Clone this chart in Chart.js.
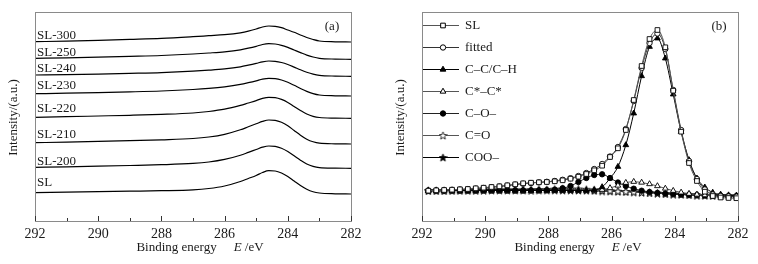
<!DOCTYPE html>
<html><head><meta charset="utf-8">
<script src="https://cdn.jsdelivr.net/npm/chart.js@4/dist/chart.umd.min.js"></script>
<style>
html,body{margin:0;padding:0;background:#fff;}
#wrap{position:relative;width:758px;height:264px;overflow:hidden;}
canvas{position:absolute;top:0;}
</style></head><body>
<div id="wrap">
<canvas id="ca" width="379" height="264" style="left:0"></canvas>
<canvas id="cb" width="379" height="264" style="left:379px"></canvas>
</div>
<script>
// ---------------- DATA ----------------
const tickValues = [292, 290, 288, 286, 284, 282];
const minorTickValues = [291, 289, 287, 285, 283];

// Panel (a): stacked spectra
const energyA = [292, 291, 290, 289, 288, 287, 286.5, 286, 285.5, 285.25, 285, 284.8, 284.6, 284.4, 284.2, 284, 283.8, 283.6, 283.4, 283.2, 283, 282.5, 282];
const sampleNames = ['SL', 'SL-200', 'SL-210', 'SL-220', 'SL-230', 'SL-240', 'SL-250', 'SL-300'];
const labelLevels = [38.7, 59.3, 86, 112, 135.3, 152, 168.7, 185.3];
const specSL    = [28.3, 28.8, 29.3, 29.8, 30.3, 31.2, 32.5, 35, 39.5, 42.5, 45.5, 48.5, 50.3, 50, 48, 44.5, 40, 35.5, 31.8, 29.3, 28, 27.2, 27];
const specSL200 = [53.7, 54.2, 54.8, 55.5, 56.3, 57.6, 59, 61.6, 65.8, 68.6, 71.5, 73.8, 75, 74.7, 72.8, 69.5, 65.2, 60.8, 57, 54.6, 53.4, 52.9, 52.7];
const specSL210 = [78.3, 78.9, 79.6, 80.3, 81.2, 82.5, 84, 86.7, 91.2, 94.2, 97.2, 99.6, 101, 100.7, 98.7, 95.2, 90.5, 85.8, 81.8, 79.2, 77.8, 77.2, 77];
const specSL220 = [103.7, 104.3, 105, 105.7, 106.6, 108, 109.5, 111.8, 115.6, 118, 120.4, 122.6, 123.7, 123.4, 121.6, 118.6, 114.5, 110.5, 107, 104.7, 103.5, 102.9, 102.7];
const specSL230 = [127.3, 127.8, 128.4, 129.1, 130, 131.5, 132.6, 134.2, 136.6, 138.3, 140.2, 141.9, 142.7, 142.4, 141, 138.7, 135.7, 132.5, 129.6, 127.4, 126, 125.2, 125];
const specSL240 = [146, 146.4, 146.9, 147.6, 148.4, 149.8, 150.8, 152.1, 154.2, 155.8, 157.6, 159.2, 160, 159.7, 158.5, 156.5, 153.9, 151.2, 148.8, 146.9, 145.7, 144.9, 144.7];
const specSL250 = [162.7, 163.2, 163.8, 164.6, 165.5, 167, 168, 169.2, 171.2, 172.8, 174.7, 176.5, 177.3, 177, 175.7, 173.6, 171, 168.4, 165.9, 164, 162.7, 161.9, 161.7];
const specSL300 = [179.3, 179.9, 180.7, 181.6, 182.6, 184.3, 185.3, 186.3, 188.2, 189.8, 192, 194, 195, 194.7, 193.3, 191, 188.7, 186, 183.5, 181.5, 180, 179.2, 179];

// Panel (b): C1s peak fitting of SL
const energyB = [291.8, 291.55, 291.3, 291.05, 290.8, 290.55, 290.3, 290.05, 289.8, 289.55, 289.3, 289.05, 288.8, 288.55, 288.3, 288.05, 287.8, 287.55, 287.3, 287.05, 286.8, 286.55, 286.3, 286.05, 285.8, 285.55, 285.3, 285.05, 284.8, 284.55, 284.3, 284.05, 283.8, 283.55, 283.3, 283.05, 282.8, 282.55, 282.3, 282.05];
const fitNames = ['SL', 'fitted', 'C\u2013C/C\u2013H', 'C*\u2013C*', 'C\u2013O\u2013', 'C=O', 'COO\u2013'];
const fitSL     = [30.3, 30.7, 31, 31.3, 31.7, 32, 32.7, 33.3, 34, 34.7, 35.7, 36.7, 37.7, 38.3, 38.7, 39, 39.7, 40.7, 42.3, 44.3, 47, 50.7, 55.3, 64, 72.7, 91, 121, 155, 182, 191, 173.7, 130.3, 89.3, 58, 40, 29.3, 25, 23.5, 23, 22.8];
const fitFitted = [30.3, 30.5, 30.8, 31.1, 31.5, 31.9, 32.4, 33, 33.7, 34.5, 35.4, 36.4, 37.3, 38, 38.6, 39.2, 40, 41.2, 42.8, 45, 48, 52, 57, 64.5, 74, 92, 120, 153, 178, 187.5, 172, 131, 91, 60, 42, 31.5, 26.5, 25, 24.5, 24.3];
const fitCC     = [30.3, 30.3, 30.3, 30.4, 30.4, 30.4, 30.4, 30.5, 30.5, 30.5, 30.5, 30.5, 30.5, 30.5, 30.5, 30.5, 30.5, 30.5, 30.5, 30.5, 30.5, 31, 34, 42.7, 54.3, 76, 107.7, 145, 174.3, 182.7, 162.7, 126.7, 89.3, 61, 42.7, 33.7, 28.5, 26.5, 25.6, 25.2];
const fitCsCs   = [30.3, 30.3, 30.3, 30.4, 30.4, 30.4, 30.4, 30.5, 30.5, 30.5, 30.5, 30.5, 30.5, 30.5, 30.5, 30.5, 30.5, 30.5, 30.5, 30.5, 30.5, 30.7, 31.3, 33, 35.5, 38.3, 39.3, 38.5, 37, 35, 32.5, 30.3, 28.6, 27.3, 26.5, 25.9, 25.5, 25.3, 25.1, 25];
const fitCO     = [30.3, 30.3, 30.3, 30.4, 30.4, 30.4, 30.4, 30.5, 30.5, 30.5, 30.5, 30.5, 30.5, 30.5, 30.6, 30.8, 31.3, 32.8, 35, 39, 43, 46, 46.7, 43, 38.5, 35, 32.3, 30.3, 29, 28.1, 27.4, 26.9, 26.5, 26.2, 25.9, 25.6, 25.4, 25.2, 25.1, 25];
const fitCdO    = [30.3, 30.3, 30.3, 30.4, 30.4, 30.4, 30.4, 30.5, 30.5, 30.5, 30.5, 30.5, 30.7, 31, 31.3, 31.6, 31.9, 32.1, 32.1, 32, 31.7, 31.2, 30.7, 30.2, 29.8, 29.4, 29.1, 28.7, 28.2, 27.8, 27.3, 26.9, 26.5, 26.2, 25.9, 25.6, 25.4, 25.2, 25.1, 25];
const fitCOO    = [30.3, 30.3, 30.3, 30.4, 30.5, 30.6, 30.8, 31, 31.2, 31.3, 31.3, 31.2, 31.1, 31, 30.9, 30.8, 30.7, 30.6, 30.6, 30.5, 30.4, 30.2, 30, 29.8, 29.6, 29.3, 29, 28.6, 28.2, 27.8, 27.3, 26.9, 26.5, 26.2, 25.9, 25.6, 25.4, 25.2, 25.1, 25];

// ---------------- STYLE / HELPERS ----------------
const SERIF = '"Liberation Serif", "Times New Roman", serif';
const FRAME = '#8a8a8a';
const TXT = '#1a1a1a';

function starImg(filled) {
  const c = document.createElement('canvas'); c.width = 9; c.height = 9;
  const g = c.getContext('2d');
  g.beginPath();
  for (let k = 0; k < 10; k++) {
    const r = k % 2 ? 1.7 : 4;
    const a = -Math.PI / 2 + k * Math.PI / 5;
    const px = 4.5 + r * Math.cos(a), py = 4.9 + r * Math.sin(a);
    if (k) g.lineTo(px, py); else g.moveTo(px, py);
  }
  g.closePath();
  g.fillStyle = filled ? '#000' : '#fff'; g.fill();
  g.lineWidth = 0.8; g.strokeStyle = '#000'; g.stroke();
  return c;
}
const openStar = starImg(false), fullStar = starImg(true);

function pts(xs, ys) { return xs.map((x, i) => ({ x: x, y: ys[i] })); }

function xScale() {
  return {
    type: 'linear', reverse: true, min: 282, max: 292,
    afterBuildTicks: s => { s.ticks = tickValues.map(v => ({ value: v })); },
    afterFit: s => { s.height = 43; },
    ticks: { font: { family: SERIF, size: 14 }, color: TXT, padding: 5, maxRotation: 0, autoSkip: false, callback: v => String(v) },
    grid: { display: false, drawTicks: false },
    border: { display: false }
  };
}

const framePlugin = {
  id: 'frame',
  afterDraw(chart, args, opts) {
    const { ctx, chartArea: a } = chart;
    const xs = chart.scales.x;
    ctx.save();
    ctx.strokeStyle = FRAME; ctx.lineWidth = 1;
    ctx.strokeRect(a.left + 0.5, a.top + 0.5, a.right - a.left, a.bottom - a.top);
    ctx.strokeStyle = '#333';
    tickValues.concat(minorTickValues).forEach(v => {
      const px = Math.round(xs.getPixelForValue(v)) + 0.5;
      const len = minorTickValues.includes(v) ? 3 : 5;
      ctx.beginPath(); ctx.moveTo(px, a.bottom); ctx.lineTo(px, a.bottom - len); ctx.stroke();
    });
    ctx.fillStyle = TXT;
    ctx.textBaseline = 'alphabetic';
    const f = '13px ' + SERIF, fi = 'italic 13px ' + SERIF;
    const p1 = 'Binding energy', gap = 17, p2 = 'E', p3 = ' /eV';
    ctx.font = f; const w1 = ctx.measureText(p1).width, w3 = ctx.measureText(p3).width;
    ctx.font = fi; const w2 = ctx.measureText(p2).width;
    let x0 = opts.titleX - (w1 + gap + w2 + w3) / 2;
    ctx.font = f; ctx.textAlign = 'left'; ctx.fillText(p1, x0, 251);
    x0 += w1 + gap; ctx.font = fi; ctx.fillText(p2, x0, 251);
    x0 += w2; ctx.font = f; ctx.fillText(p3, x0, 251);
    ctx.save();
    ctx.translate(a.left - 21, (a.top + a.bottom) / 2 + 1);
    ctx.rotate(-Math.PI / 2);
    ctx.textAlign = 'center'; ctx.textBaseline = 'middle';
    ctx.font = '13px ' + SERIF;
    ctx.fillText('Intensity/(a.u.)', 0, 0);
    ctx.restore();
    ctx.font = '13px ' + SERIF; ctx.textAlign = 'center'; ctx.textBaseline = 'middle';
    ctx.fillText(opts.letter, a.right - 19, a.top + 15);
    ctx.restore();
  }
};

const sampleLabelPlugin = {
  id: 'sampleLabels',
  afterDatasetsDraw(chart) {
    const { ctx, chartArea: a } = chart;
    const ys = chart.scales.y;
    ctx.save();
    ctx.font = '13px ' + SERIF; ctx.fillStyle = TXT;
    ctx.textAlign = 'left'; ctx.textBaseline = 'middle';
    chart.data.datasets.forEach((ds, i) => {
      ctx.fillText(ds.label, a.left + 2, ys.getPixelForValue(labelLevels[i]));
    });
    ctx.restore();
  }
};

function drawMarker(ctx, style, r, fill, x, y) {
  if (style instanceof HTMLCanvasElement) { ctx.drawImage(style, x - style.width / 2, y - style.height / 2); return; }
  ctx.beginPath();
  if (style === 'rect') { const s = r * Math.SQRT1_2; ctx.rect(x - s, y - s, 2 * s, 2 * s); }
  else if (style === 'circle') { ctx.arc(x, y, r, 0, Math.PI * 2); }
  else if (style === 'triangle') {
    ctx.moveTo(x, y - r); ctx.lineTo(x + r * 0.866, y + r * 0.5); ctx.lineTo(x - r * 0.866, y + r * 0.5); ctx.closePath();
  }
  ctx.fillStyle = fill; ctx.fill();
  ctx.lineWidth = 1; ctx.strokeStyle = '#000'; ctx.stroke();
}

const fitLegendPlugin = {
  id: 'fitLegend',
  afterDraw(chart) {
    const { ctx, chartArea: a } = chart;
    ctx.save();
    chart.data.datasets.forEach((ds, i) => {
      const y = a.top + 13 + i * 22;
      ctx.strokeStyle = ds.borderColor; ctx.lineWidth = 1;
      ctx.beginPath(); ctx.moveTo(a.left + 1, y + 0.5); ctx.lineTo(a.left + 37, y + 0.5); ctx.stroke();
      drawMarker(ctx, ds.pointStyle, ds.pointRadius, ds.pointBackgroundColor, a.left + 21, y + 0.5);
      ctx.font = '13px ' + SERIF; ctx.fillStyle = TXT;
      ctx.textAlign = 'left'; ctx.textBaseline = 'middle';
      ctx.fillText(ds.label, a.left + 43, y + 1);
    });
    ctx.restore();
  }
};

// ---------------- PANEL (a) ----------------
const specA = [specSL, specSL200, specSL210, specSL220, specSL230, specSL240, specSL250, specSL300];
new Chart(document.getElementById('ca'), {
  type: 'line',
  data: {
    datasets: sampleNames.map((n, i) => ({
      label: n, data: pts(energyA, specA[i]),
      borderColor: '#000', borderWidth: 1.2, pointRadius: 0,
      cubicInterpolationMode: 'monotone', fill: false
    }))
  },
  options: {
    responsive: false, animation: false, events: [],
    layout: { padding: { left: 35, right: 28, top: 12, bottom: 0 } },
    plugins: { legend: { display: false }, tooltip: { enabled: false }, frame: { letter: '(a)', titleX: 200 } },
    scales: { x: xScale(), y: { display: false, min: 0, max: 209 } }
  },
  plugins: [framePlugin, sampleLabelPlugin]
});

// ---------------- PANEL (b) ----------------
const fitData = [fitSL, fitFitted, fitCC, fitCsCs, fitCO, fitCdO, fitCOO];
const fitStyles = [
  { ps: 'rect', r: 3.3, bg: '#fff', c: '#555' },
  { ps: 'circle', r: 2.7, bg: '#fff', c: '#333' },
  { ps: 'triangle', r: 3.3, bg: '#000', c: '#000' },
  { ps: 'triangle', r: 3.3, bg: '#fff', c: '#555' },
  { ps: 'circle', r: 2.7, bg: '#000', c: '#222' },
  { ps: openStar, r: 3, bg: '#fff', c: '#555' },
  { ps: fullStar, r: 3, bg: '#000', c: '#000' }
];
new Chart(document.getElementById('cb'), {
  type: 'line',
  data: {
    datasets: fitNames.map((n, i) => ({
      label: n, data: pts(energyB, fitData[i]),
      borderColor: fitStyles[i].c, borderWidth: 1,
      pointStyle: fitStyles[i].ps, pointRadius: fitStyles[i].r,
      pointBackgroundColor: fitStyles[i].bg, pointBorderColor: '#000', pointBorderWidth: 0.9,
      cubicInterpolationMode: 'monotone', fill: false
    }))
  },
  options: {
    responsive: false, animation: false, events: [],
    layout: { padding: { left: 43, right: 20, top: 12, bottom: 0 } },
    plugins: { legend: { display: false }, tooltip: { enabled: false }, frame: { letter: '(b)', titleX: 199 } },
    scales: { x: xScale(), y: { display: false, min: 0, max: 209 } }
  },
  plugins: [framePlugin, fitLegendPlugin]
});
</script>
</body></html>
